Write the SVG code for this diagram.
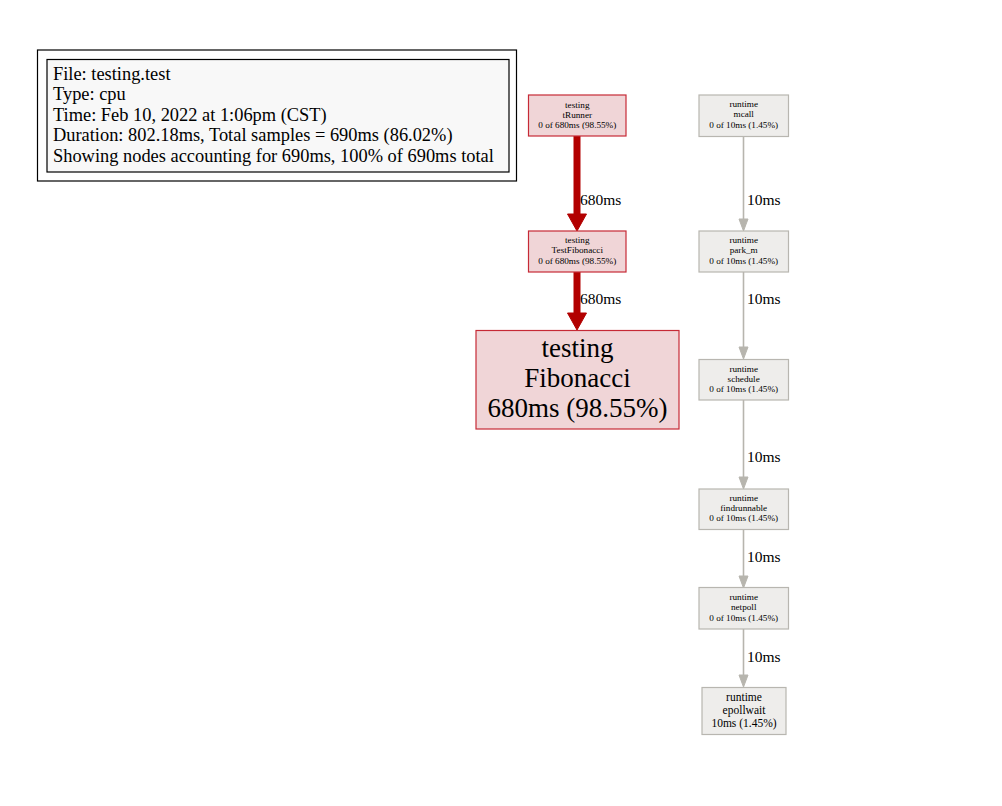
<svg xmlns="http://www.w3.org/2000/svg" width="1002" height="806" viewBox="0 0 1002 806">
<style>
text{font-family:"Liberation Serif","Times New Roman",serif;fill:#000;text-anchor:middle}
.leg{text-anchor:start;font-size:18.4px}
.hot{fill:#f0d5d7;stroke:#c62a36;stroke-width:1.2}
.cold{fill:#eeedeb;stroke:#b8b6b0;stroke-width:1.2}
.s{font-size:9.2px}
.el{font-size:15.5px;text-anchor:start}
.redl{stroke:#b20000;stroke-width:7;fill:none}
.redh{fill:#b20000;stroke:#b20000}
.grayl{stroke:#b7b5ae;stroke-width:1.6;fill:none}
.grayh{fill:#b7b5ae;stroke:#b7b5ae}
</style>
<rect width="1002" height="806" fill="#fff"/>
<g id="legend">
<rect x="37.5" y="50" width="479" height="131" fill="#fff" stroke="#000" stroke-width="1.2"/>
<rect x="47" y="59.5" width="462" height="112.5" fill="#f8f8f8" stroke="#000" stroke-width="1.2"/>
<text class="leg" x="53" y="79.5">File: testing.test</text>
<text class="leg" x="53" y="100">Type: cpu</text>
<text class="leg" x="53" y="120.5">Time: Feb 10, 2022 at 1:06pm (CST)</text>
<text class="leg" x="53" y="141">Duration: 802.18ms, Total samples = 690ms (86.02%)</text>
<text class="leg" x="53" y="161.5">Showing nodes accounting for 690ms, 100% of 690ms total</text>
</g>
<g id="edges">
<line class="redl" x1="577" y1="136" x2="577" y2="215"/>
<polygon class="redh" points="567.5,214 586.5,214 577,231"/>
<text class="el" x="580" y="205">680ms</text>
<line class="redl" x1="577" y1="272" x2="577" y2="314"/>
<polygon class="redh" points="567.5,313 586.5,313 577,330"/>
<text class="el" x="580" y="304">680ms</text>
<line class="grayl" x1="743.5" y1="137" x2="743.5" y2="220"/>
<polygon class="grayh" points="739,219 748,219 743.5,231"/>
<text class="el" x="747" y="205">10ms</text>
<line class="grayl" x1="743.5" y1="272" x2="743.5" y2="348"/>
<polygon class="grayh" points="739,347 748,347 743.5,359"/>
<text class="el" x="747" y="304">10ms</text>
<line class="grayl" x1="743.5" y1="400" x2="743.5" y2="478"/>
<polygon class="grayh" points="739,477 748,477 743.5,489"/>
<text class="el" x="747" y="462">10ms</text>
<line class="grayl" x1="743.5" y1="529" x2="743.5" y2="577"/>
<polygon class="grayh" points="739,576 748,576 743.5,588"/>
<text class="el" x="747" y="562">10ms</text>
<line class="grayl" x1="743.5" y1="629" x2="743.5" y2="676"/>
<polygon class="grayh" points="739,675 748,675 743.5,687"/>
<text class="el" x="747" y="662">10ms</text>
</g>
<g id="node-tRunner">
<rect class="hot" x="528.5" y="95" width="97.5" height="41"/>
<text class="s" x="577.3" y="107.5">testing</text>
<text class="s" x="577.3" y="117.5">tRunner</text>
<text class="s" x="577.3" y="127.5">0 of 680ms (98.55%)</text>
</g>
<g id="node-TestFibonacci">
<rect class="hot" x="528.5" y="231" width="97.5" height="41"/>
<text class="s" x="577.3" y="243">testing</text>
<text class="s" x="577.3" y="253">TestFibonacci</text>
<text class="s" x="577.3" y="263.5">0 of 680ms (98.55%)</text>
</g>
<g id="node-Fibonacci">
<rect class="hot" x="476" y="330.5" width="203" height="98.5"/>
<text x="577.5" y="357" font-size="27">testing</text>
<text x="577.5" y="387" font-size="27">Fibonacci</text>
<text x="577.5" y="416.5" font-size="27">680ms (98.55%)</text>
</g>
<g id="node-mcall">
<rect class="cold" x="699" y="95" width="89.5" height="41.5"/>
<text class="s" x="743.7" y="107">runtime</text>
<text class="s" x="743.7" y="117">mcall</text>
<text class="s" x="743.7" y="127.5">0 of 10ms (1.45%)</text>
</g>
<g id="node-park_m">
<rect class="cold" x="699" y="231" width="89.5" height="41"/>
<text class="s" x="743.7" y="243">runtime</text>
<text class="s" x="743.7" y="253">park_m</text>
<text class="s" x="743.7" y="263.5">0 of 10ms (1.45%)</text>
</g>
<g id="node-schedule">
<rect class="cold" x="699" y="359.5" width="89.5" height="40.5"/>
<text class="s" x="743.7" y="371.5">runtime</text>
<text class="s" x="743.7" y="381.5">schedule</text>
<text class="s" x="743.7" y="392">0 of 10ms (1.45%)</text>
</g>
<g id="node-findrunnable">
<rect class="cold" x="699" y="489" width="89.5" height="40.5"/>
<text class="s" x="743.7" y="500.5">runtime</text>
<text class="s" x="743.7" y="510.5">findrunnable</text>
<text class="s" x="743.7" y="521">0 of 10ms (1.45%)</text>
</g>
<g id="node-netpoll">
<rect class="cold" x="699" y="587.5" width="89.5" height="41.5"/>
<text class="s" x="743.7" y="600">runtime</text>
<text class="s" x="743.7" y="610">netpoll</text>
<text class="s" x="743.7" y="620.5">0 of 10ms (1.45%)</text>
</g>
<g id="node-epollwait">
<rect class="cold" x="702" y="687.5" width="84" height="47"/>
<text x="744" y="700.5" font-size="11.5">runtime</text>
<text x="744" y="713.5" font-size="11.5">epollwait</text>
<text x="744" y="726.5" font-size="11.5">10ms (1.45%)</text>
</g>
</svg>
